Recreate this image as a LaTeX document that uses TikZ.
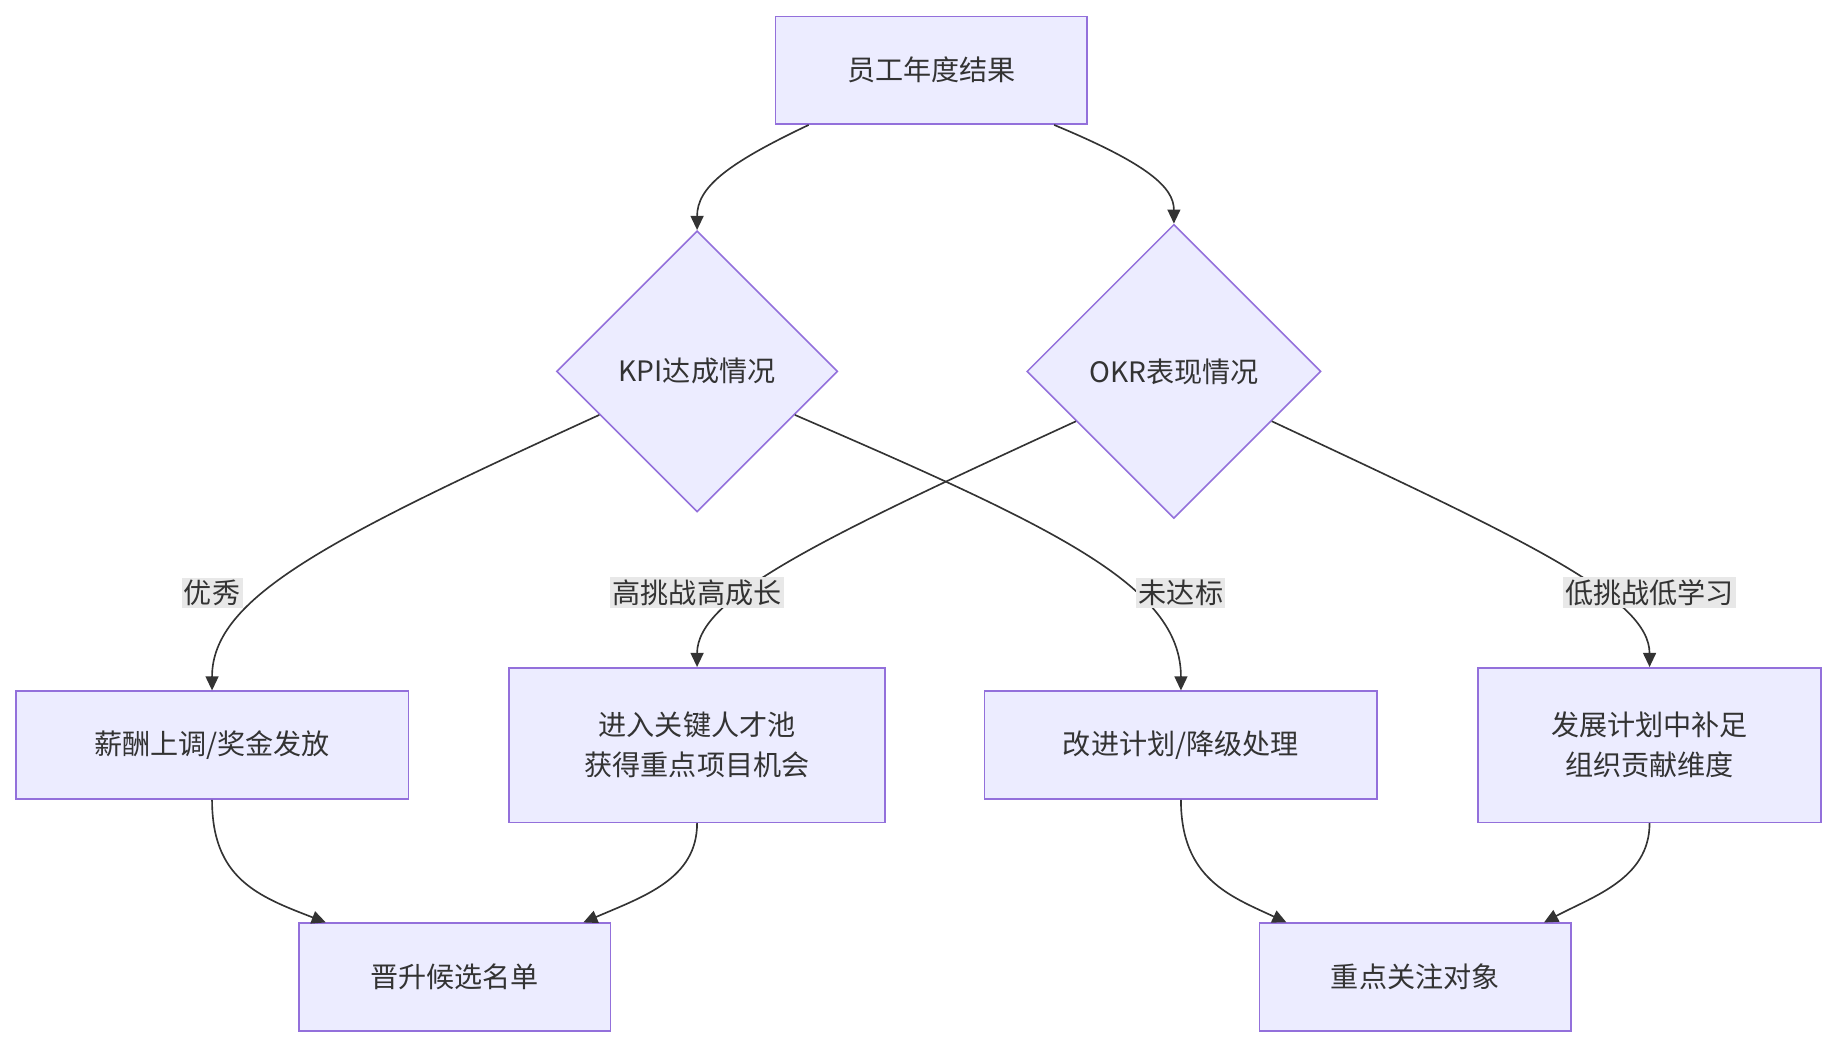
\documentclass[tikz,border=0pt]{standalone}
\usepackage{fontspec}
\setmainfont{Noto Sans CJK SC}
\usetikzlibrary{shapes.geometric,arrows.meta}
\definecolor{boxfill}{HTML}{ECECFF}
\definecolor{boxline}{HTML}{9370DB}
\definecolor{edge}{HTML}{333333}
\definecolor{lblbg}{HTML}{E8E8E8}
\tikzset{
  box/.style={draw=boxline,fill=boxfill,line width=1.3pt,inner sep=0pt,text=edge,font=\fontsize{24}{34}\selectfont,align=center},
  dia/.style={box,diamond,shape aspect=1},
  conn/.style={draw=edge,line width=1.4pt,-{Triangle[length=12pt,width=11pt]}},
  lbl/.style={fill=lblbg,text=edge,inner sep=2pt,font=\fontsize{24}{28}\selectfont}
}
\begin{document}
\begin{tikzpicture}[x=1pt,y=-1pt]
\useasboundingbox (0,0) rectangle (1568,893);
\node[box,minimum width=266pt,minimum height=92pt] (top) at (795,60) {员工年度结果};
\node[dia,minimum width=240pt,minimum height=240pt] (kpi) at (595,317) {KPI达成情况};
\node[dia,minimum width=251pt,minimum height=251pt] (okr) at (1002,317) {OKR表现情况};
\node[box,minimum width=335pt,minimum height=92pt] (sal) at (181,636) {薪酬上调/奖金发放};
\node[box,minimum width=321pt,minimum height=132pt] (tal) at (595,636) {进入关键人才池\\获得重点项目机会};
\node[box,minimum width=335pt,minimum height=92pt] (imp) at (1008,636) {改进计划/降级处理};
\node[box,minimum width=293pt,minimum height=132pt] (dev) at (1408,636) {发展计划中补足\\组织贡献维度};
\node[box,minimum width=266pt,minimum height=92pt] (pro) at (388,834) {晋升候选名单};
\node[box,minimum width=266pt,minimum height=92pt] (foc) at (1208,834) {重点关注对象};

\draw[conn] (top.204) .. controls (620,140) and (595,160) .. (kpi.north);
\draw[conn] (top.336) .. controls (980,140) and (1002,160) .. (okr.north);
\draw[conn] (kpi.204) .. controls (280,460) and (181,510) .. (sal.north);
\draw[conn] (kpi.336) .. controls (900,450) and (1008,500) .. (imp.north);
\draw[conn] (okr.207) .. controls (700,460) and (595,510) .. (tal.north);
\draw[conn] (okr.333) .. controls (1300,460) and (1408,510) .. (dev.north);
\draw[conn] (sal.south) .. controls (181,750) and (220,765) .. (pro.157);
\draw[conn] (tal.south) .. controls (595,750) and (550,765) .. (pro.23);
\draw[conn] (imp.south) .. controls (1008,750) and (1050,765) .. (foc.157);
\draw[conn] (dev.south) .. controls (1408,750) and (1360,765) .. (foc.23);

\node[lbl] (l1) at (181,506) {优秀};
\node[lbl] (l2) at (595,506) {高挑战高成长};
\node[lbl] (l3) at (1008,506) {未达标};
\node[lbl] (l4) at (1408,506) {低挑战低学习};
\end{tikzpicture}
\end{document}
